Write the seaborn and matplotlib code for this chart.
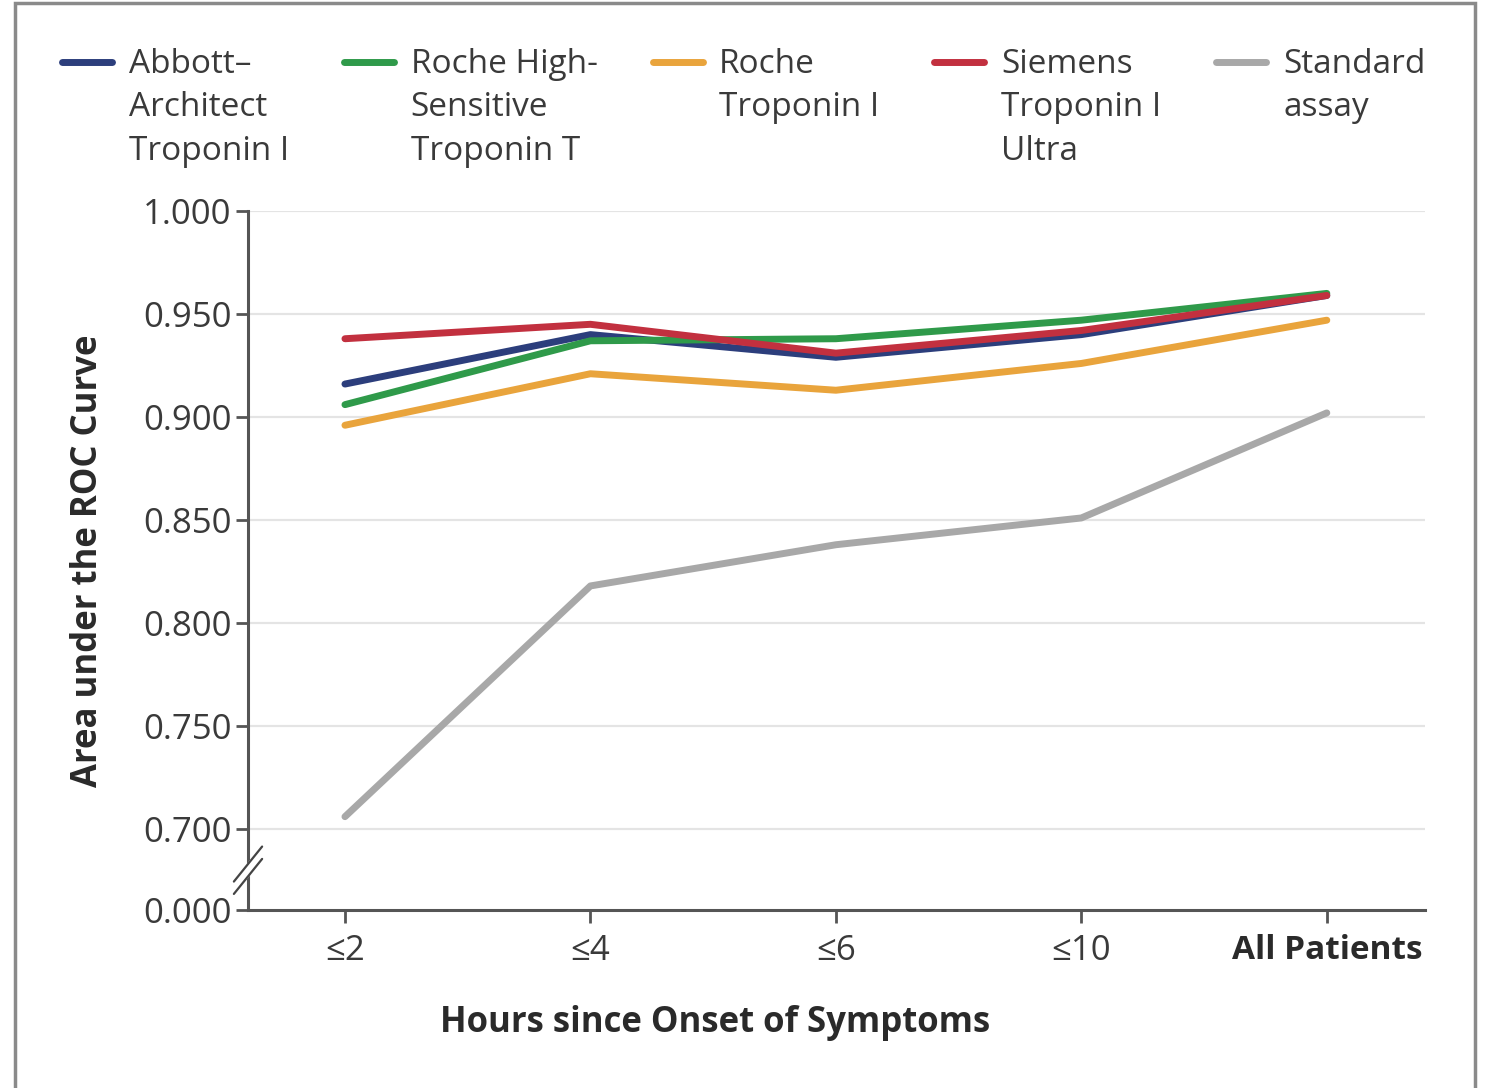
import numpy as np
import pandas as pd
import seaborn as sns
import matplotlib
matplotlib.use("Agg")
import matplotlib.pyplot as plt
from matplotlib.lines import Line2D
from matplotlib.patches import Rectangle
from matplotlib.legend_handler import HandlerLine2D

# ---------------- data ----------------
categories = ["≤2", "≤4", "≤6", "≤10", "All Patients"]
abbott = [0.916, 0.940, 0.929, 0.940, 0.959]
roche_hs_t = [0.906, 0.937, 0.938, 0.947, 0.960]
roche_i = [0.896, 0.921, 0.913, 0.926, 0.947]
siemens = [0.938, 0.945, 0.931, 0.942, 0.959]
standard = [0.706, 0.818, 0.838, 0.851, 0.902]

series_names = ["Abbott–\nArchitect\nTroponin I",
                "Roche High-\nSensitive\nTroponin T",
                "Roche\nTroponin I\n",
                "Siemens\nTroponin I\nUltra",
                "Standard\nassay\n"]
series_values = [abbott, roche_hs_t, roche_i, siemens, standard]
colors = ["#2c3e7c", "#2f9a4a", "#e9a43c", "#c2303f", "#a8a8a8"]

ytick_values = [0.700, 0.750, 0.800, 0.850, 0.900, 0.950, 1.000]
ytick_labels = ["0.700", "0.750", "0.800", "0.850", "0.900", "0.950", "1.000"]
zero_pos = 0.6607  # position of the "0.000" tick on the broken axis

rows = []
for name, vals in zip(series_names, series_values):
    for i, (c, v) in enumerate(zip(categories, vals)):
        rows.append({"assay": name, "x": i, "auc": v})
df = pd.DataFrame(rows)

# ---------------- style ----------------
sns.set_theme(style="white")
plt.rcParams["font.family"] = ["Open Sans", "DejaVu Sans"]
text_col = "#3a3a3a"

fig = plt.figure(figsize=(14.86, 10.88), dpi=100)
ax = fig.add_axes([248 / 1486, 1 - 910 / 1088, (1425 - 248) / 1486, (910 - 211) / 1088])

sns.lineplot(data=df, x="x", y="auc", hue="assay", hue_order=series_names,
             palette=colors, linewidth=5, ax=ax, legend=False, sort=False)

ax.set_xlim(-0.395, 4.40)
ax.set_ylim(zero_pos, 1.0)

# grid
for yv in ytick_values:
    ax.axhline(yv, color="#e4e4e4", lw=1.6, zorder=0)

ax.set_yticks([zero_pos] + ytick_values)
ax.set_yticklabels(["0.000"] + ytick_labels)
ax.set_xticks(range(len(categories)))
ax.set_xticklabels(categories)

for sp in ["top", "right"]:
    ax.spines[sp].set_visible(False)
for sp in ["left", "bottom"]:
    ax.spines[sp].set_color("#555555")
    ax.spines[sp].set_linewidth(2.2)

ax.tick_params(axis="both", which="major", direction="out", length=9, width=2,
               color="#555555", labelcolor=text_col, labelsize=25, left=True, bottom=True)
ax.tick_params(axis="y", pad=3)
ax.tick_params(axis="x", pad=8)
for lbl in ax.get_xticklabels():
    if lbl.get_text() == "All Patients":
        lbl.set_fontweight("bold")
        lbl.set_color("#2a2a2a")
        lbl.set_fontsize(24)

ax.set_ylabel("Area under the ROC Curve", fontsize=25, fontweight="bold", color="#2a2a2a")
ax.yaxis.set_label_coords(-0.121, 0.5)
ax.set_xlabel("Hours since Onset of Symptoms", fontsize=25, fontweight="bold", color="#2a2a2a")
ax.xaxis.set_label_coords(0.397, -0.136)

# axis break mark
ybr = 0.680
tr = ax.get_yaxis_transform()
ax.plot([-0.012, 0.012], [ybr - 0.0085, ybr + 0.0085], transform=tr, color="white",
        lw=7, clip_on=False, zorder=5, solid_capstyle="butt")
for off in (-0.0030, 0.0030):
    ax.plot([-0.012, 0.012], [ybr - 0.0085 + off, ybr + 0.0085 + off], transform=tr,
            color="#444444", lw=1.6, clip_on=False, zorder=6)

# legend with handles aligned to the first text line
fs = 24
lsp = 1.42


class TopHandler(HandlerLine2D):
    def create_artists(self, legend, orig_handle, xdescent, ydescent, width, height,
                       fontsize, trans):
        arts = super().create_artists(legend, orig_handle, xdescent, ydescent, width,
                                      height, fontsize, trans)
        for a in arts:
            yd = np.asarray(a.get_ydata(), dtype=float)
            a.set_ydata(yd + fontsize * lsp)
        return arts


handles = [Line2D([0], [0], color=c, lw=5) for c in colors]
leg = fig.legend(handles, series_names, loc="upper left",
                 bbox_to_anchor=(62 / 1486, 1 - 48 / 1088), ncol=5, frameon=False,
                 fontsize=fs, handlelength=1.5, handletextpad=0.5, columnspacing=1.65,
                 borderaxespad=0, borderpad=0,
                 handler_map={Line2D: TopHandler()})
for t in leg.get_texts():
    t.set_color(text_col)
    t.set_linespacing(lsp)

# outer frame
fig.add_artist(Rectangle((15 / 1486, -0.01), (1475 - 15) / 1486, 1 - 3 / 1088 + 0.01,
                         transform=fig.transFigure, fill=False, edgecolor="#8a8a8a",
                         lw=2.5))

fig.savefig("out.png", dpi=100)
